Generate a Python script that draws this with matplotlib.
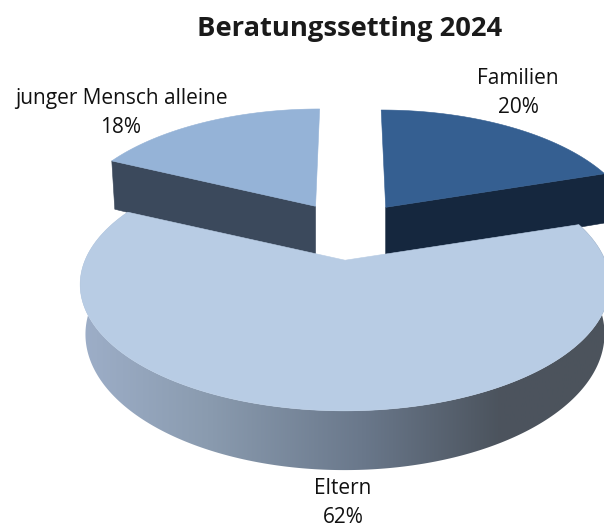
import numpy as np
from matplotlib import pyplot as plt
from matplotlib.colors import LinearSegmentedColormap
from matplotlib.patches import Polygon

title = 'Beratungssetting 2024'
labels = ['Familien', 'Eltern', 'junger Mensch alleine']
shares = [20, 62, 18]

top_colors = ['#355F91', '#B8CCE4', '#95B3D7']
side_colors = ['#15273E', None, '#3B495C']
side_cmap = LinearSegmentedColormap.from_list(
    'side', [(0.0, '#9EAFC9'), (0.25, '#8A9BAF'), (0.55, '#69778A'),
             (0.8, '#4C545E'), (1.0, '#4C535C')])

# pie geometry in pixels
center = (349, 231)
rx, ry = 260, 122
explode = 0.24
depth = 48
back_depth = 52
persp = 0.19
back_scale = 0.94
lean = 0.13
taper = 0.02


def project(ang, r, cx, cy):
    u = r * np.sin(ang)
    v = r * np.cos(ang)
    s = 1 / (1 + persp * v)
    x = cx + rx * u * s - lean * (cx - center[0]) * v
    return x, cy - ry * v * s, s


fig = plt.figure(figsize=(6.04, 5.28), dpi=100)
ax = fig.add_axes([0, 0, 1, 1])
ax.axis('off')

bounds = np.cumsum([0] + shares) / sum(shares) * 2 * np.pi
# back wedges first, the big one lies in front of them
for i in [0, 2, 1]:
    a0, a1 = bounds[i], bounds[i + 1]
    mid = (a0 + a1) / 2
    cx = center[0] + explode * rx * np.sin(mid)
    cy = center[1] - explode * ry * np.cos(mid)
    r = 1 if i == 1 else back_scale
    ang = np.linspace(a0, a1, 300)
    x, y, s = project(ang, r, cx, cy)

    if i == 1:
        # outer wall, shaded from left to right
        low_x = x - taper * (x - cx)
        wall = np.column_stack([np.r_[x, low_x[::-1]],
                                np.r_[y, (y + depth * s)[::-1]]])
        clip = Polygon(wall, transform=ax.transData)
        img = ax.imshow(np.linspace(0, 1, 256)[None, :], cmap=side_cmap, vmin=0, vmax=1,
                        extent=(76, 604, 528, 0), aspect='auto', interpolation='bilinear')
        img.set_clip_path(clip)
    else:
        # radial wall facing the viewer
        end = a0 if i == 2 else a1
        ex, ey, es = project(end, r, cx, cy)
        ax.add_patch(Polygon([(cx, cy), (ex, ey), (ex + 3 * (i == 2), ey + back_depth * es),
                              (cx, cy + back_depth)], fc=side_colors[i], ec=side_colors[i], lw=0.4))

    top = np.column_stack([np.r_[cx, x], np.r_[cy, y]])
    ax.add_patch(Polygon(top, fc=top_colors[i], ec=top_colors[i], lw=0.4))

ax.set_xlim(0, 604)
ax.set_ylim(528, 0)

ax.text(350, 29, title, fontsize=19.7, fontweight='bold', family='Open Sans',
        color='#1A1A1A', ha='center', va='center')
label_pos = [(518, 93), (343, 503), (121, 113)]
for name, share, (lx, ly) in zip(labels, shares, label_pos):
    ax.text(lx, ly, f'{name}\n{share}%', fontsize=15, family='Open Sans', color='#111111',
            ha='center', va='center', linespacing=1.5)

fig.savefig('out.png', dpi=100)
